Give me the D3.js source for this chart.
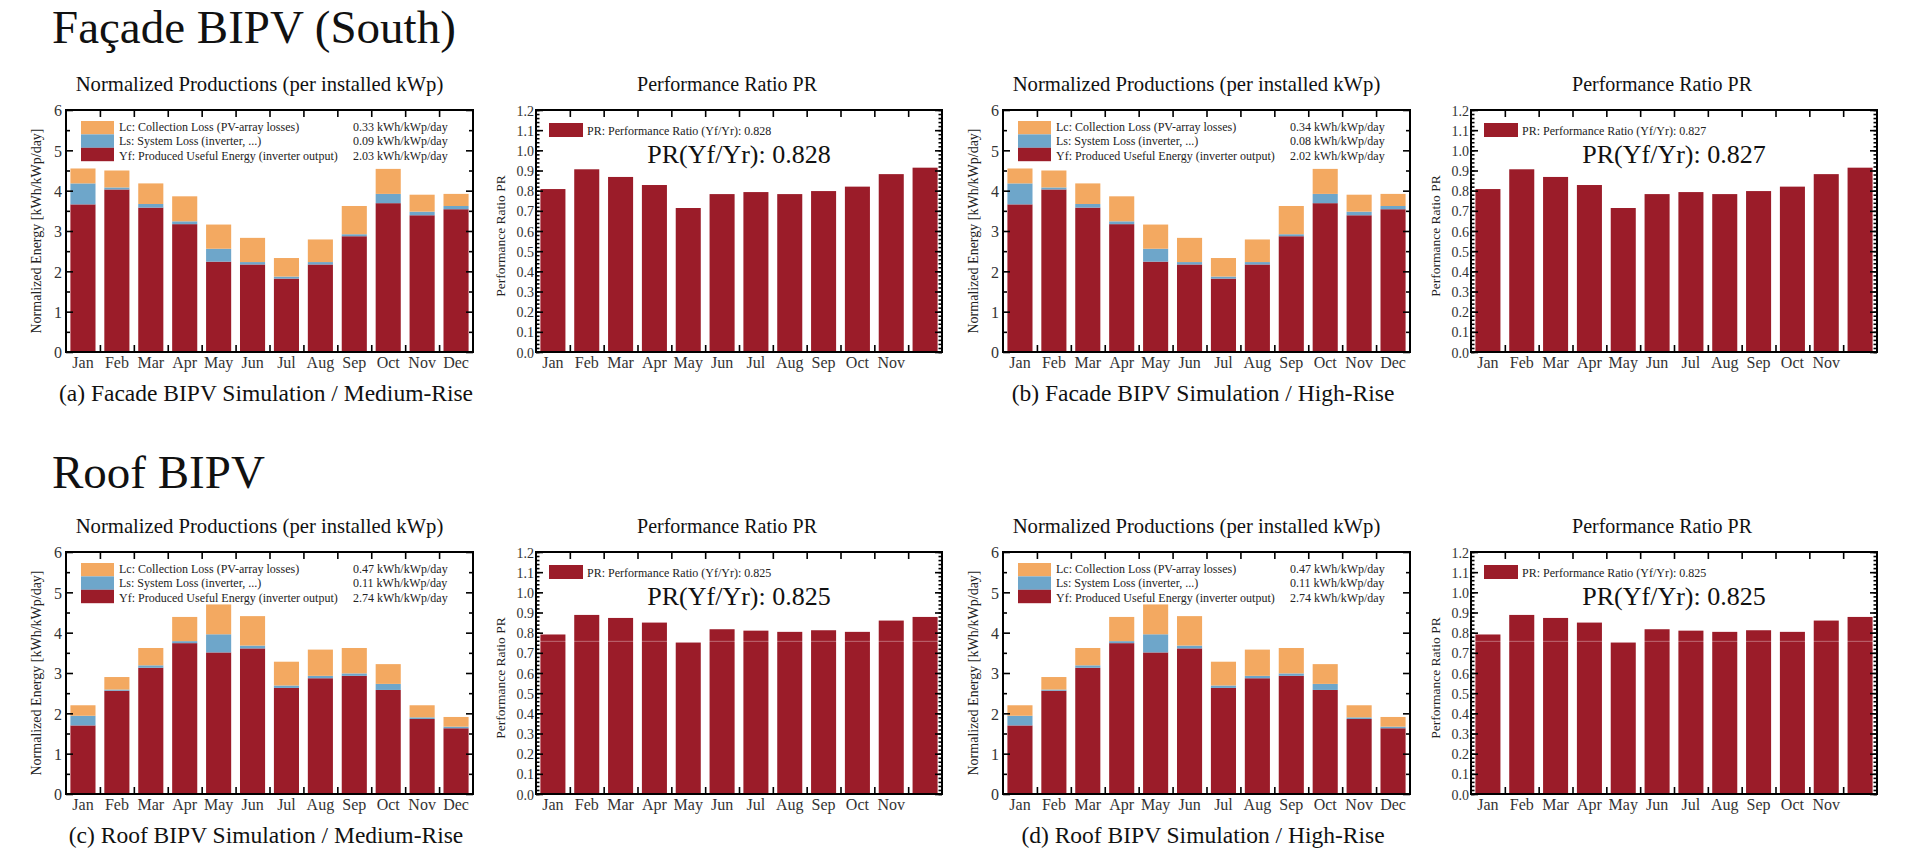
<!DOCTYPE html>
<html>
<head>
<meta charset="utf-8">
<script src="https://cdn.jsdelivr.net/npm/d3@7"></script>
<style>
  body { margin: 0; background: #fff; }
  svg { display: block; font-family: "Liberation Serif", "DejaVu Serif", serif; }
  svg text, .tick text { font-family: "Liberation Serif", "DejaVu Serif", serif; }
  .big { font-size: 47px; fill: #111; }
  .sub { font-size: 20.7px; fill: #111; }
  .prsub { font-size: 20px; fill: #111; }
  .cap { font-size: 23.5px; fill: #111; }
  .ylab { font-size: 14px; fill: #222; }
  .leg { font-size: 12px; fill: #222; }
  .prbig { font-size: 26px; fill: #111; }
  .tick text { fill: #333; }
</style>
</head>
<body>
<svg width="1906" height="866"></svg>
<script>
/* ----------------------------------------------------------
data
---------------------------------------------------------- */

var months = ["Jan", "Feb", "Mar", "Apr", "May", "Jun", "Jul", "Aug", "Sep", "Oct", "Nov", "Dec"];
var prMonthLabels = ["Jan", "Feb", "Mar", "Apr", "May", "Jun", "Jul", "Aug", "Sep", "Oct", "Nov", ""];

// facade (south) - kWh/kWp/day
var facadeYf = [3.66, 4.03, 3.58, 3.17, 2.24, 2.17, 1.82, 2.17, 2.87, 3.69, 3.39, 3.54];
var facadeLs = [0.52, 0.05, 0.09, 0.07, 0.32, 0.06, 0.05, 0.06, 0.05, 0.23, 0.09, 0.08];
var facadeLc = [0.37, 0.42, 0.51, 0.62, 0.60, 0.60, 0.46, 0.56, 0.70, 0.62, 0.42, 0.30];
var facadePR = [0.808, 0.906, 0.868, 0.828, 0.714, 0.783, 0.793, 0.783, 0.798, 0.820, 0.882, 0.914];

// roof
var roofYf = [1.70, 2.56, 3.13, 3.74, 3.51, 3.61, 2.63, 2.87, 2.93, 2.58, 1.86, 1.63];
var roofLs = [0.24, 0.03, 0.06, 0.05, 0.45, 0.07, 0.06, 0.06, 0.06, 0.15, 0.04, 0.04];
var roofLc = [0.26, 0.31, 0.43, 0.60, 0.74, 0.73, 0.59, 0.65, 0.63, 0.49, 0.30, 0.24];
var roofPR = [0.791, 0.888, 0.873, 0.850, 0.751, 0.817, 0.810, 0.804, 0.812, 0.804, 0.860, 0.878];

var legendNames = [
  "Lc: Collection Loss (PV-array losses)",
  "Ls: System Loss (inverter, ...)",
  "Yf: Produced Useful Energy (inverter output)"
];
var legendValsA = ["0.33", "0.09", "2.03"];
var legendValsB = ["0.34", "0.08", "2.02"];
var legendValsC = ["0.47", "0.11", "2.74"];
var legendValsD = ["0.47", "0.11", "2.74"];

var prTotals = ["0.828", "0.827", "0.825", "0.825"];
var captions = [
  "(a) Facade BIPV Simulation / Medium-Rise",
  "(b) Facade BIPV Simulation / High-Rise",
  "(c) Roof BIPV Simulation / Medium-Rise",
  "(d) Roof BIPV Simulation / High-Rise"
];

/* ----------------------------------------------------------
setting
---------------------------------------------------------- */

var colLc = "#f3a961";
var colLs = "#6ea6ca";
var colYf = "#9b1c29";

var EW = 407, PW = 406, FH = 242;

var panels = [
  { ex: 66,   px: 536,  top: 110, yf: facadeYf, ls: facadeLs, lc: facadeLc, pr: facadePR, vals: legendValsA, total: prTotals[0], cap: captions[0] },
  { ex: 1003, px: 1471, top: 110, yf: facadeYf, ls: facadeLs, lc: facadeLc, pr: facadePR, vals: legendValsB, total: prTotals[1], cap: captions[1] },
  { ex: 66,   px: 536,  top: 552, yf: roofYf,   ls: roofLs,   lc: roofLc,   pr: roofPR,   vals: legendValsC, total: prTotals[2], cap: captions[2], streak: true },
  { ex: 1003, px: 1471, top: 552, yf: roofYf,   ls: roofLs,   lc: roofLc,   pr: roofPR,   vals: legendValsD, total: prTotals[3], cap: captions[3], streak: true }
];

var svg = d3.select("svg");
svg.append("rect").attr("width", 1906).attr("height", 866).attr("fill", "#fff");

svg.append("text").attr("class", "big").attr("x", 52).attr("y", 43).text("Façade BIPV (South)");
svg.append("text").attr("class", "big").attr("x", 52).attr("y", 488).text("Roof BIPV");

/* ----------------------------------------------------------
helpers
---------------------------------------------------------- */

function cleanAxis(g) {
  g.attr("font-family", null);
  g.select(".domain").remove();
  g.selectAll(".tick line").attr("stroke", "#000").attr("stroke-width", 1.6);
}

function boundaryTicks(g, w, h) {
  // ticks on top and bottom at category boundaries
  var xi = d3.scaleLinear().domain([0, 12]).range([0, w]);
  g.append("g").call(d3.axisTop(xi).tickValues(d3.range(1, 12)).tickSize(-7).tickFormat(""))
    .call(cleanAxis);
  g.append("g").attr("transform", "translate(0," + h + ")")
    .call(d3.axisBottom(xi).tickValues(d3.range(1, 12)).tickSize(-7).tickFormat(""))
    .call(cleanAxis);
}

function drawEnergy(p) {
  var g = svg.append("g").attr("transform", "translate(" + p.ex + "," + p.top + ")");
  var x = d3.scaleBand().domain(months).range([0, EW]).paddingInner(0.26).paddingOuter(0.13);
  var y = d3.scaleLinear().domain([0, 6]).range([FH, 0]);

  var rows = months.map(function (m, i) {
    return { m: m, yf: p.yf[i], ls: p.ls[i], lc: p.lc[i] };
  });
  var stack = d3.stack().keys(["yf", "ls", "lc"])(rows);
  var cols = { yf: colYf, ls: colLs, lc: colLc };

  g.selectAll(".layer").data(stack).enter().append("g")
    .attr("fill", function (d) { return cols[d.key]; })
    .selectAll("rect").data(function (d) { return d; }).enter().append("rect")
    .attr("x", function (d) { return x(d.data.m); })
    .attr("width", x.bandwidth())
    .attr("y", function (d) { return y(d[1]); })
    .attr("height", function (d) { return y(d[0]) - y(d[1]); });

  // y ticks
  g.append("g").call(d3.axisLeft(y).tickValues(d3.range(0.5, 6, 1)).tickSize(-4).tickFormat("")).call(cleanAxis);
  g.append("g").call(d3.axisLeft(y).ticks(6).tickSize(-7).tickPadding(4).tickFormat(d3.format("d")))
    .call(cleanAxis)
    .selectAll("text").style("font-size", "16px").attr("dy", "0.36em");
  var r = g.append("g").attr("transform", "translate(" + EW + ",0)");
  r.append("g").call(d3.axisRight(y).tickValues(d3.range(0.5, 6, 1)).tickSize(-4).tickFormat("")).call(cleanAxis);
  r.append("g").call(d3.axisRight(y).ticks(6).tickSize(-7).tickFormat("")).call(cleanAxis);
  boundaryTicks(g, EW, FH);

  // x labels
  g.append("g").attr("transform", "translate(0," + FH + ")")
    .call(d3.axisBottom(x).tickSize(0).tickPadding(5))
    .call(function (a) { a.attr("font-family", null); a.select(".domain").remove(); })
    .selectAll("text").style("font-size", "16px");

  g.append("rect").attr("width", EW).attr("height", FH)
    .attr("fill", "none").attr("stroke", "#000").attr("stroke-width", 2);

  // legend
  var lg = g.append("g").attr("transform", "translate(15,11)");
  var legCols = [colLc, colLs, colYf];
  legCols.forEach(function (c, i) {
    lg.append("rect").attr("x", 0).attr("y", i * 13.4).attr("width", 33).attr("height", 13.4).attr("fill", c);
    lg.append("text").attr("class", "leg").attr("x", 38).attr("y", 9.5 + i * 14.5).text(legendNames[i]);
    lg.append("text").attr("class", "leg").attr("x", 272).attr("y", 9.5 + i * 14.5).text(p.vals[i] + " kWh/kWp/day");
  });

  // titles
  g.append("text").attr("class", "sub").attr("x", EW / 2 - 10).attr("y", -19)
    .attr("text-anchor", "middle").text("Normalized Productions (per installed kWp)");
  g.append("text").attr("class", "ylab").attr("text-anchor", "middle")
    .attr("transform", "translate(-25," + FH / 2 + ") rotate(-90)")
    .text("Normalized Energy [kWh/kWp/day]");
  g.append("text").attr("class", "cap").attr("x", 200).attr("y", FH + 49)
    .attr("text-anchor", "middle").text(p.cap);
}

function drawPR(p) {
  var g = svg.append("g").attr("transform", "translate(" + p.px + "," + p.top + ")");
  var x = d3.scaleBand().domain(months).range([0, PW]).paddingInner(0.26).paddingOuter(0.13);
  var y = d3.scaleLinear().domain([0, 1.2]).range([FH, 0]);

  g.selectAll(".bar").data(p.pr).enter().append("rect")
    .attr("x", function (d, i) { return x(months[i]); })
    .attr("width", x.bandwidth())
    .attr("y", function (d) { return y(d); })
    .attr("height", function (d) { return FH - y(d); })
    .attr("fill", colYf);

  if (p.streak) {
    // faint scan streak visible across the roof PR plots
    g.append("line").attr("x1", 0).attr("x2", PW).attr("y1", y(0.757)).attr("y2", y(0.757))
      .attr("stroke", "#fff").attr("stroke-opacity", 0.35).attr("stroke-width", 1);
  }

  var minor = d3.range(0, 1.2001, 0.02);
  g.append("g").call(d3.axisLeft(y).tickValues(minor).tickSize(-3.5).tickFormat("")).call(cleanAxis);
  g.append("g").call(d3.axisLeft(y).tickValues(d3.range(0, 1.2001, 0.1)).tickSize(-7).tickPadding(2).tickFormat(d3.format(".1f")))
    .call(cleanAxis)
    .selectAll("text").style("font-size", "14px").attr("dy", "0.36em");
  var r = g.append("g").attr("transform", "translate(" + PW + ",0)");
  r.append("g").call(d3.axisRight(y).tickValues(minor).tickSize(-3.5).tickFormat("")).call(cleanAxis);
  r.append("g").call(d3.axisRight(y).tickValues(d3.range(0, 1.2001, 0.1)).tickSize(-7).tickFormat("")).call(cleanAxis);
  boundaryTicks(g, PW, FH);

  g.append("g").attr("transform", "translate(0," + FH + ")")
    .call(d3.axisBottom(x).tickSize(0).tickPadding(5).tickFormat(function (d, i) { return prMonthLabels[i]; }))
    .call(function (a) { a.attr("font-family", null); a.select(".domain").remove(); })
    .selectAll("text").style("font-size", "16px");

  g.append("rect").attr("width", PW).attr("height", FH)
    .attr("fill", "none").attr("stroke", "#000").attr("stroke-width", 2);

  // legend
  g.append("rect").attr("x", 13).attr("y", 13).attr("width", 34).attr("height", 14).attr("fill", colYf);
  g.append("text").attr("class", "leg").attr("x", 51).attr("y", 25)
    .text("PR: Performance Ratio (Yf/Yr): " + p.total);
  g.append("text").attr("class", "prbig").attr("x", PW / 2).attr("y", 53)
    .attr("text-anchor", "middle").text("PR(Yf/Yr): " + p.total);

  g.append("text").attr("class", "prsub").attr("x", PW / 2 - 12).attr("y", -19)
    .attr("text-anchor", "middle").text("Performance Ratio PR");
  g.append("text").attr("class", "ylab").attr("text-anchor", "middle")
    .style("font-size", "13.5px")
    .attr("transform", "translate(-31," + (FH / 2 + 5) + ") rotate(-90)")
    .text("Performance Ratio PR");
}

panels.forEach(function (p) {
  drawEnergy(p);
  drawPR(p);
});
</script>
</body>
</html>
